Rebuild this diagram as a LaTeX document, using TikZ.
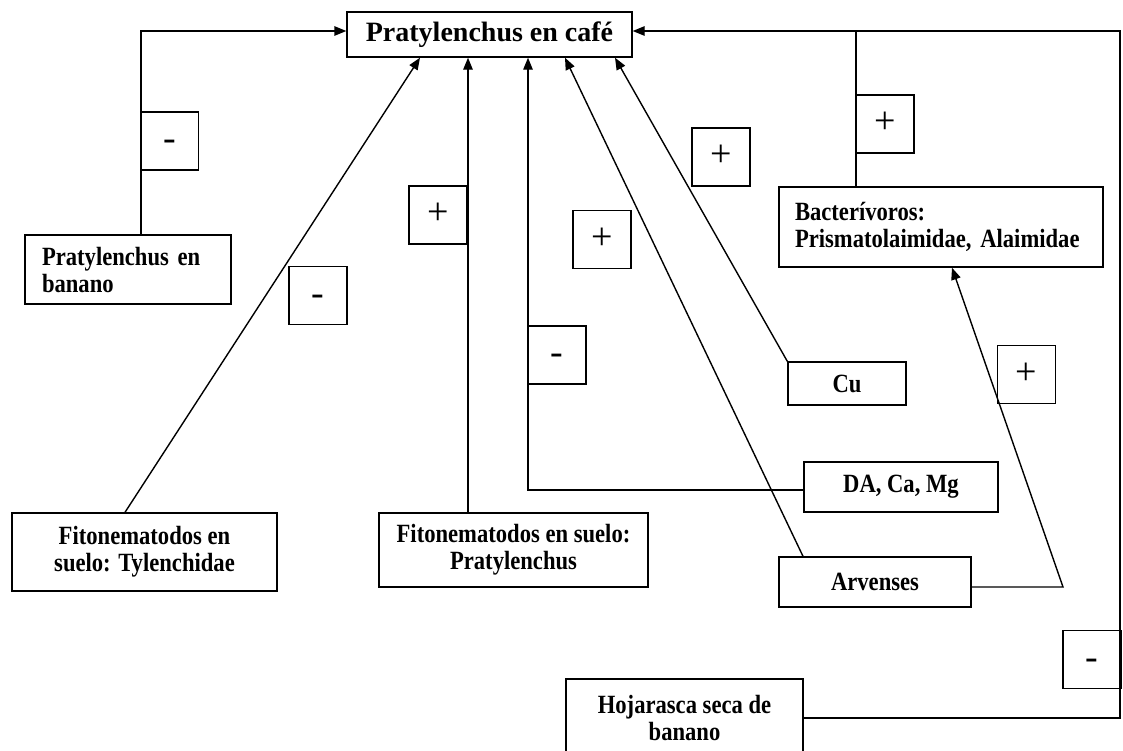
\documentclass[tikz,border=0pt]{standalone}
\usepackage{fontspec}
\setmainfont{Liberation Serif}
\newfontfamily\bodyfont{Liberation Serif}[FakeStretch=0.86]
\usetikzlibrary{arrows.meta}
\begin{document}
\begin{tikzpicture}[x=1pt,y=-1pt,line width=1.4pt,
  box/.style={draw,inner sep=0pt,align=center,font=\bodyfont\bfseries\fontsize{26.3}{27}\selectfont},
  sign/.style={draw,minimum width=58pt,minimum height=58pt,inner sep=0pt,
    text height=19pt,text depth=0pt,font=\fontsize{38}{38}\selectfont},
  arr/.style={-{Triangle[length=12pt,width=9.5pt]}}]
\useasboundingbox (0,0) rectangle (1123,750);
\clip (0,0) rectangle (1123,750);

% central node
\node[box,minimum width=285pt,minimum height=45pt,
  font=\bfseries\fontsize{28}{32}\selectfont] (T) at (489.5,34.5) {Pratylenchus en café};

% factors
\node[box,minimum width=206pt,minimum height=69pt,align=left,text width=172pt]
  (ban) at (128,269.5) {Pratylenchus en\\banano};
\node[box,minimum width=324pt,minimum height=80pt,align=left,text width=292pt]
  (bact) at (941,227) {Bacterívoros:\\Prismatolaimidae, Alaimidae};
\node[box,minimum width=118pt,minimum height=43pt] (cu) at (847,383.5) {Cu};
\node[box,minimum width=194pt,minimum height=50pt] (da) at (901,487) {DA, Ca, Mg};
\node[box,minimum width=192pt,minimum height=50pt] (arv) at (875,582) {Arvenses};
\node[box,minimum width=265pt,minimum height=78pt] (tyl) at (144.5,552)
  {Fitonematodos en\\suelo: Tylenchidae};
\node[box,minimum width=269pt,minimum height=74pt] (prs) at (513.5,550)
  {Fitonematodos en suelo:\\Pratylenchus};
\node[box,minimum width=237pt,minimum height=78pt] (hoj) at (684.5,718)
  {Hojarasca seca de\\banano};

% connectors
\draw[arr] (ban.north -| 141,0) |- (T.west |- 0,31);
\draw[arr] (hoj.east) -| (1120,31) -- (T.east |- 0,31);
\draw (bact.north -| 856,0) -- (856,31);
\draw[arr] (tyl.north -| 125,0) -- (T.south -| 420,0);
\draw[arr] (prs.north -| 468,0) -- (T.south -| 468,0);
\draw[arr] (da.west |- 0,490) -| (T.south -| 528,0);
\draw[arr] (arv.north -| 803,0) -- (T.south -| 565,0);
\draw[arr] (cu.north west) -- (T.south -| 615,0);
\draw[arr] (arv.east |- 0,587) -- (1063,587) -- (bact.south -| 952,0);

% signs
\node[sign] (s1) at (169.5,141) {-};
\node[sign] (s2) at (318,295.5) {-};
\node[sign] (s3) at (438,215) {+};
\node[sign] (s4) at (602,239.5) {+};
\node[sign] (s5) at (557,355) {-};
\node[sign] (s6) at (721,157) {+};
\node[sign] (s7) at (885,124) {+};
\node[sign] (s8) at (1026.5,374.5) {+};
\node[sign] (s9) at (1092,659.5) {-};
\end{tikzpicture}
\end{document}
